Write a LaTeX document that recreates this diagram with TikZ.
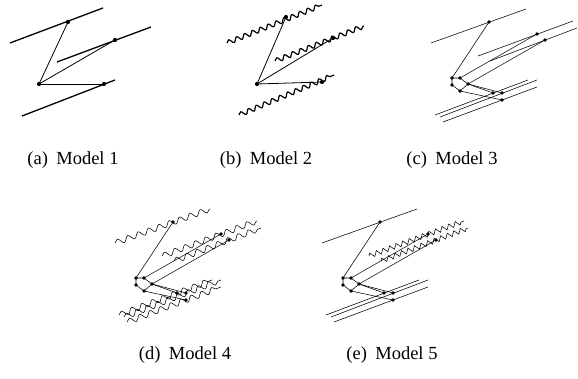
\documentclass[tikz,border=0pt]{standalone}
\usepackage{fontspec}
\setmainfont{Liberation Serif}
\usetikzlibrary{decorations.pathmorphing}
\tikzset{
  dot/.style={circle,fill=black,inner sep=0pt,minimum size=3.8pt},
  bigdot/.style={circle,fill=black,inner sep=0pt,minimum size=4.2pt},
  thickline/.style={line width=1.3pt},
  midline/.style={line width=0.8pt},
  thinline/.style={line width=0.55pt},
  wavyA/.style={line width=1.2pt,decorate,decoration={snake,segment length=8.5pt,amplitude=2.3pt}},
  wavyB/.style={line width=0.55pt,decorate,decoration={snake,segment length=11pt,amplitude=2.8pt}},
  wavyC/.style={line width=0.55pt,decorate,decoration={zigzag,segment length=7pt,amplitude=2.5pt}},
  capt/.style={font=\fontsize{18.5}{22}\selectfont,inner sep=0pt}
}
\newcommand{\molec}[4]{%
  \coordinate (#1T) at (489,22);
  \coordinate (#1Ma) at (537,34);
  \coordinate (#1Mb) at (545,40);
  \coordinate (#1Ra) at (452,78);
  \coordinate (#1Rb) at (460,78);
  \coordinate (#1Rc) at (468,84);
  \coordinate (#1Rd) at (460,91);
  \coordinate (#1Re) at (452,85);
  \coordinate (#1Ba) at (493,93);
  \coordinate (#1Bb) at (502,93);
  \coordinate (#1Bc) at (502,100);
  \coordinate (#1ta) at (431,43);  \coordinate (#1tb) at (526,9);
  \coordinate (#1ma) at (478,56);  \coordinate (#1mb) at (573,21);
  \coordinate (#1na) at (490,61);  \coordinate (#1nb) at (577,28);
  \coordinate (#1aa) at (435,115); \coordinate (#1ab) at (528,80);
  \coordinate (#1ba) at (440,117); \coordinate (#1bb) at (537,80);
  \coordinate (#1ca) at (443,122); \coordinate (#1cb) at (537,87);
  \draw[#2] (#1ta) -- (#1tb);
  \draw[#3] (#1ma) -- (#1mb);
  \draw[#3] (#1na) -- (#1nb);
  \draw[#4] (#1aa) -- (#1ab);
  \draw[#4] (#1ba) -- (#1bb);
  \draw[#4] (#1ca) -- (#1cb);
  \draw[thinline] (#1Ra) -- (#1Rb) -- (#1Rc) -- (#1Rd) -- (#1Re) -- cycle;
  \draw[thinline] (#1Ra) -- (#1T);
  \draw[thinline] (#1Rb) -- (#1Ma);
  \draw[thinline] (#1Rc) -- (#1Mb);
  \draw[thinline] (#1Rc) -- (#1Ba);
  \draw[thinline] (#1Rc) -- (#1Bb);
  \draw[thinline] (#1Rd) -- (#1Bc);
  \foreach \p in {T,Ma,Mb,Ra,Rb,Rc,Rd,Re,Ba,Bb,Bc}
    \node[dot] (#1\p d) at (#1\p) {};
}
\begin{document}
\begin{tikzpicture}[x=1pt,y=-1pt]
\useasboundingbox (0,0) rectangle (578,379);
% ---------- Model 1 ----------
\coordinate (aO) at (39,84);
\coordinate (aT) at (68,22);
\coordinate (aM) at (115,40);
\coordinate (aB) at (104,84);
\coordinate (ata) at (10,43);  \coordinate (atb) at (103,8);
\coordinate (ama) at (57,62);  \coordinate (amb) at (151,27);
\coordinate (aba) at (22,116); \coordinate (abb) at (115,80);
\draw[thickline] (ata) -- (atb);
\draw[thickline] (ama) -- (amb);
\draw[thickline] (aba) -- (abb);
\draw[midline] (aO) -- (aT);
\draw[midline] (aO) -- (aM);
\draw[midline] (aO) -- (aB);
\foreach \p in {O,T,M,B} \node[bigdot] (a\p d) at (a\p) {};
% ---------- Model 2 ----------
\coordinate (bO) at (257,84);
\coordinate (bT) at (286,17);
\coordinate (bM) at (333,38);
\coordinate (bB) at (322,82);
\coordinate (bta) at (227,43);  \coordinate (btb) at (322,5);
\coordinate (bma) at (275,61);  \coordinate (bmb) at (364,26);
\coordinate (bba) at (239,115); \coordinate (bbb) at (334,75);
\draw[wavyA] (bta) -- (btb);
\draw[wavyA] (bma) -- (bmb);
\draw[wavyA] (bba) -- (bbb);
\draw[midline] (bO) -- (bT);
\draw[midline] (bO) -- (bM);
\draw[midline] (bO) -- (bB);
\foreach \p in {O,T,M,B} \node[bigdot] (b\p d) at (b\p) {};
% ---------- Model 3 ----------
\molec{c}{thinline}{thinline}{thinline}
% ---------- Model 4 ----------
\begin{scope}[shift={(-316,200)}]
\molec{d}{wavyB}{wavyB}{wavyB}
\end{scope}
% ---------- Model 5 ----------
\begin{scope}[shift={(-109,200)}]
\molec{e}{thinline}{wavyC}{thinline}
\end{scope}
% ---------- Captions ----------
\node[capt] (capa) at (73,160) {(a)\hspace{0.45em}Model 1};
\node[capt] (capb) at (266,160) {(b)\hspace{0.45em}Model 2};
\node[capt] (capc) at (452,160) {(c)\hspace{0.45em}Model 3};
\node[capt] (capd) at (185,355) {(d)\hspace{0.45em}Model 4};
\node[capt] (cape) at (392,355) {(e)\hspace{0.45em}Model 5};
\end{tikzpicture}
\end{document}
